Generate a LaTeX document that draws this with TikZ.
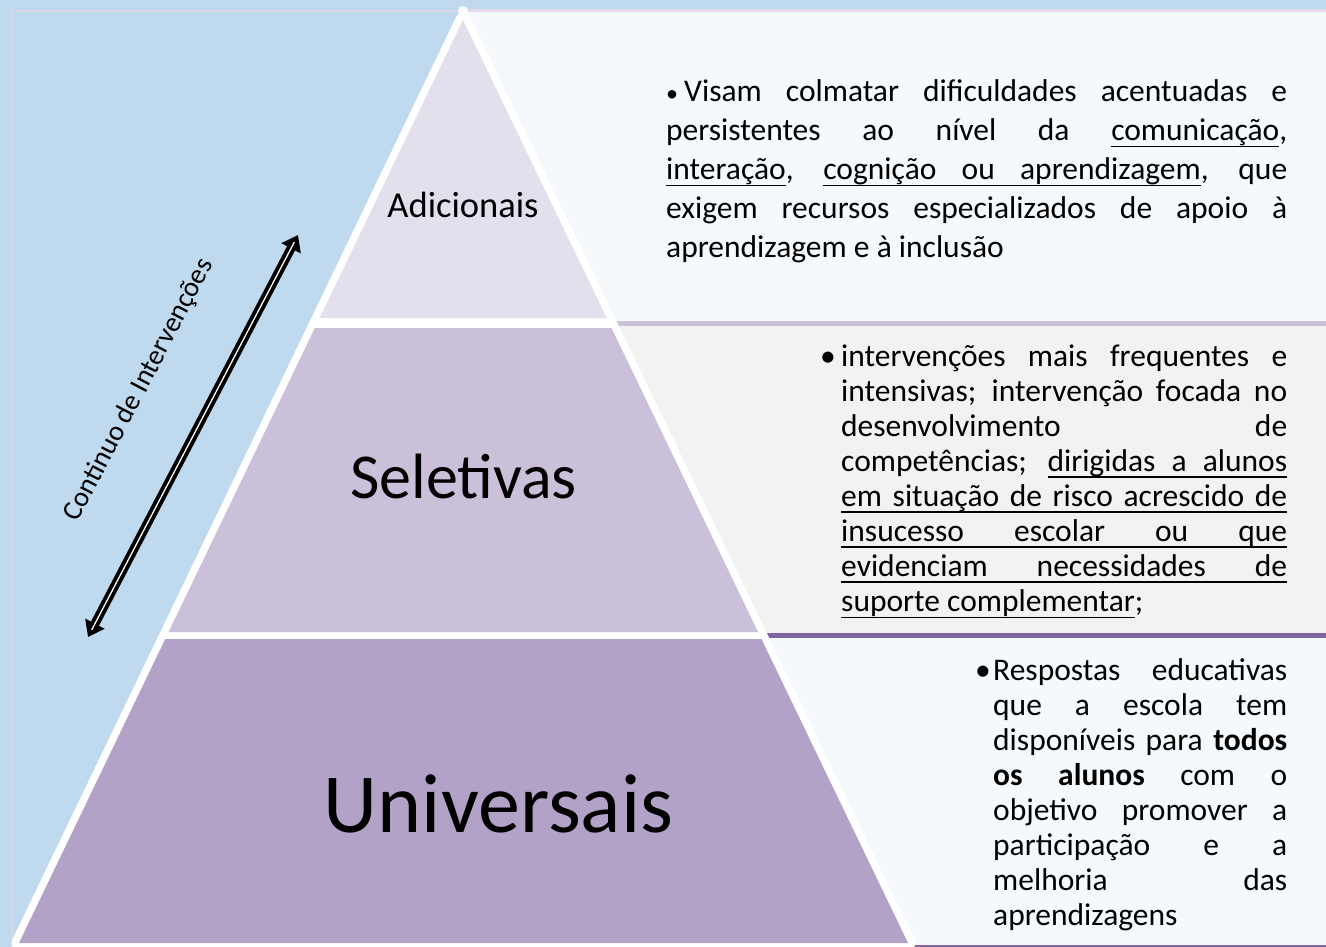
\documentclass[tikz,border=0pt]{standalone}
\usepackage{fontspec}
\setmainfont{Carlito}
\usetikzlibrary{arrows.meta,calc}
\definecolor{bgblue}{HTML}{BFD9EE}
\definecolor{framec}{HTML}{DAD6E8}
\definecolor{toplav}{HTML}{E0DAEA}
\definecolor{boxlight}{HTML}{F5F9FC}
\definecolor{boxgray}{HTML}{F2F2F2}
\definecolor{lavline}{HTML}{CCC1DA}
\definecolor{purpline}{HTML}{8064A2}
\definecolor{tierA}{HTML}{E4DFEC}
\definecolor{tierB}{HTML}{CAC0DA}
\definecolor{tierC}{HTML}{B2A2C7}
\newcommand{\jl}[2]{\makebox[#1][s]{#2}}
\newcommand{\indB}{\makebox[21pt]{}}
\newcommand{\indC}{\makebox[18pt]{}}
% underlined word and underlined (stretchable) space
\newcommand{\uw}[1]{\setbox0\hbox{#1}\rlap{\rule[-6.5pt]{\wd0}{1.7pt}}\box0}
\newcommand{\us}{\leaders\hrule height -4.8pt depth 6.5pt\hskip\fontdimen2\font plus\fontdimen3\font minus\fontdimen4\font\relax}
\newcommand{\ulline}[2]{\rlap{\rule[-6.5pt]{#1}{1.7pt}}\jl{#1}{#2}}
\tikzset{
  tierlabel/.style={anchor=base, inner sep=0pt, text=black},
  bodytext/.style={anchor=base west, inner sep=0pt, text=black},
  whiteframe/.style={draw=white, fill=white, line width=15pt, line join=round},
  contarrow/.style={black, line width=9pt, {Triangle[length=15pt,width=21pt]}-{Triangle[length=15pt,width=21pt]}},
}
\begin{document}
\begin{tikzpicture}[x=1pt,y=-1pt]
\useasboundingbox (0,0) rectangle (1326,947);
% background
\fill[bgblue] (0,0) rectangle (1326,947);
\draw[framec, line width=1.5pt] (12,950) -- (12,11) -- (1326,11);
% right-hand boxes
\fill[boxlight] (463,11) rectangle (1326,321);
\fill[toplav] (463,9.5) rectangle (1326,12.5);
\fill[lavline] (463,321) rectangle (1326,325.5);
\fill[boxgray] (463,325.5) rectangle (1326,633);
\fill[purpline] (463,633) rectangle (1326,638);
\fill[boxlight] (463,638) rectangle (1326,945);
\fill[purpline] (463,945) rectangle (1326,948);
% pyramid
\path[whiteframe] (463,20) -- (19,943) -- (908,943) -- cycle;
\fill[white] (463,11) circle (5pt);
\fill[tierA] (463,20) -- (319.65,318) -- (606.67,318) -- cycle;
\fill[tierB] (314.84,328) -- (611.49,328) -- (758.06,632) -- (168.6,632) -- cycle;
\fill[tierC] (165.23,639) -- (761.43,639) -- (908,943) -- (19,943) -- cycle;
% tier labels
\node[tierlabel, font=\fontsize{36.5}{44}\selectfont] (lblA) at (463,218) {Adicionais};
\node[tierlabel, font=\fontsize{64}{76}\selectfont] (lblB) at (463.5,498) {Seletivas};
\node[tierlabel, font=\fontsize{84}{98}\selectfont] (lblC) at (498.5,832) {Universais};
% continuum arrow
\coordinate (arrLo) at (88,637);
\coordinate (arrHi) at (298,235);
\draw[contarrow] (arrLo) -- (arrHi);
\draw[white, line width=1.3pt] ($(arrLo)!8pt!(arrHi)$) -- ($(arrHi)!8pt!(arrLo)$);
\node[rotate=62.4, inner sep=0pt, font=\fontsize{28}{34}\selectfont] (contlabel) at (139,390) {Continuo de Intervenções};
% box texts
\node[bodytext] (txtA) at (666,102) {\parbox[t]{621pt}{\fontsize{31.5}{39}\selectfont
\jl{621pt}{\makebox[18pt][l]{\fontsize{24}{24}\selectfont •}Visam colmatar dificuldades acentuadas e}\par
\jl{621pt}{persistentes ao nível da \uw{comunicação},}\par
\jl{621pt}{\uw{interação}, \uw{cognição}\us\uw{ou}\us\uw{aprendizagem}, que}\par
\jl{621pt}{exigem recursos especializados de apoio à}\par
aprendizagem e à inclusão}};
\node[bodytext] (txtB) at (820,366) {\parbox[t]{467pt}{\fontsize{31.5}{35.1}\selectfont
\makebox[21pt][l]{•}\jl{446pt}{intervenções mais frequentes e}\par
\indB\jl{446pt}{intensivas; intervenção focada no}\par
\indB\jl{446pt}{desenvolvimento de}\par
\indB\jl{446pt}{competências; \uw{dirigidas}\us\uw{a}\us\uw{alunos}}\par
\indB\ulline{446pt}{em situação de risco acrescido de}\par
\indB\ulline{446pt}{insucesso escolar ou que}\par
\indB\ulline{446pt}{evidenciam necessidades de}\par
\indB\uw{suporte}\us\uw{complementar};}};
\node[bodytext] (txtC) at (975,680) {\parbox[t]{312pt}{\fontsize{31.5}{35}\selectfont
\makebox[18pt][l]{•}\jl{294pt}{Respostas educativas}\par
\indC\jl{294pt}{que a escola tem}\par
\indC\jl{294pt}{disponíveis para \textbf{todos}}\par
\indC\jl{294pt}{\textbf{os alunos} com o}\par
\indC\jl{294pt}{objetivo promover a}\par
\indC\jl{294pt}{participação e a}\par
\indC\jl{294pt}{melhoria das}\par
\indC aprendizagens}};
\end{tikzpicture}
\end{document}
